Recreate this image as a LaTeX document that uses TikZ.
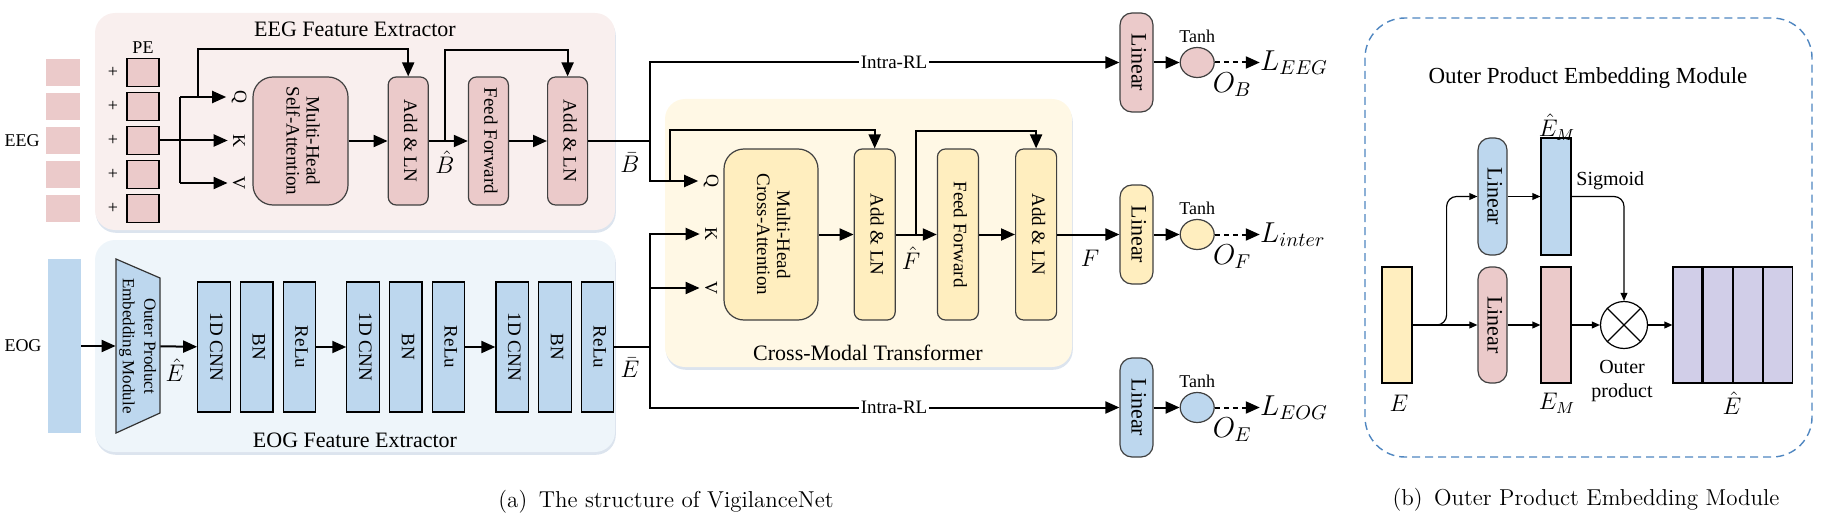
\documentclass[tikz,border=0pt]{standalone}
\usepackage{fontspec}
\newfontfamily\tnr{Liberation Serif}
\usepackage{graphicx}
\usepackage{xcolor}
\usepackage{tikz}
\usetikzlibrary{shapes,arrows.meta,positioning,calc,shadows}

\definecolor{eegbg}{HTML}{F9EFEE}
\definecolor{eegbox}{HTML}{EBCACA}
\definecolor{eogbg}{HTML}{EEF5FA}
\definecolor{eogbox}{HTML}{BDD7EE}
\definecolor{ctbg}{HTML}{FFF8E5}
\definecolor{ctbox}{HTML}{FFEEBF}
\definecolor{opembox}{HTML}{D1CEE8}
\definecolor{dashblue}{HTML}{4F86C0}
\definecolor{shadowc}{HTML}{D3DDEA}

\newcommand{\vtxt}[1]{\rotatebox{-90}{\begin{tabular}{@{}c@{}}#1\end{tabular}}}

\begin{document}
\begin{tikzpicture}[
    x=0.5pt, y=-0.5pt,
    font=\tnr,
    wire/.style={line width=1pt},
    arrow/.style={-{Triangle[length=7pt,width=6pt]}, line width=1pt},
    thinarrow/.style={-{Triangle[length=4pt,width=3.4pt]}, line width=0.6pt},
    panel/.style={rounded corners=10pt, drop shadow={shadow xshift=0.4pt, shadow yshift=-1.4pt, fill=shadowc, opacity=0.8}},
    token/.style={rectangle, fill=eegbox, minimum width=17pt, minimum height=13.5pt, inner sep=0pt},
    pebox/.style={rectangle, draw=black, fill=eegbox, line width=0.6pt, minimum width=16pt, minimum height=14pt, inner sep=0pt},
    eegblock/.style={rectangle, rounded corners=4pt, draw=black!75, fill=eegbox, line width=0.6pt, minimum width=20pt, minimum height=64pt, inner sep=0pt, font=\tnr\fontsize{9.5}{10}\selectfont},
    ctblock/.style={eegblock, fill=ctbox, minimum height=85.5pt, minimum width=20.5pt},
    cnnblock/.style={rectangle, draw=black, fill=eogbox, line width=0.6pt, minimum width=16.25pt, minimum height=65pt, inner sep=0pt, font=\tnr\fontsize{9.5}{10}\selectfont},
    linbox/.style={rectangle, rounded corners=6pt, draw=black!75, line width=0.6pt, minimum width=16.5pt, minimum height=49.5pt, inner sep=0pt, font=\tnr\fontsize{11}{12}\selectfont},
    actnode/.style={ellipse, draw=black!75, line width=0.6pt, minimum width=17pt, minimum height=15pt, inner sep=0pt},
    lbl/.style={font=\tnr\fontsize{9}{10}\selectfont, inner sep=1pt},
    qkv/.style={font=\tnr\fontsize{9}{10}\selectfont, inner sep=2.5pt},
    paneltitle/.style={font=\tnr\fontsize{11}{13}\selectfont},
    mathlbl/.style={font=\fontsize{12}{14}\selectfont, inner sep=0pt},
    bigmath/.style={font=\fontsize{14}{16}\selectfont, inner sep=0pt},
    caption/.style={font=\rmfamily\fontsize{11.5}{13}\selectfont}
]
    \useasboundingbox (0,0) rectangle (1825,519);

    % Panels
    \fill[panel, eegbg] (95,13) rectangle (615,230);
    \fill[panel, eogbg] (95,240) rectangle (615,452);
    \fill[panel, ctbg] (665,99) rectangle (1072,367);
    \draw[dashblue, line width=0.7pt, dash pattern=on 4pt off 2.5pt, rounded corners=20pt] (1365,18) rectangle (1812,457);

    \node[paneltitle] (eegtitle) at (355,29) {EEG Feature Extractor};
    \node[paneltitle] (eogtitle) at (355,440) {EOG Feature Extractor};
    \node[paneltitle] (cttitle) at (868,353) {Cross-Modal Transformer};
    \node[paneltitle, font=\tnr\fontsize{11.5}{13}\selectfont] (optitle) at (1588,78) {Outer Product Embedding Module};

    % EEG tokens + positional encoding
    \node[lbl] (eeg) at (22,141) {EEG};
    \node[lbl] (pe) at (143,48) {PE};
    \node[token] (tokA) at (63,72.5) {};
    \node[token] (tokB) at (63,106.5) {};
    \node[token] (tokC) at (63,140.5) {};
    \node[token] (tokD) at (63,174.5) {};
    \node[token] (tokE) at (63,208.5) {};
    \node[lbl] (plusA) at (113,72.5) {+};
    \node[lbl] (plusB) at (113,106.5) {+};
    \node[lbl] (plusC) at (113,140.5) {+};
    \node[lbl] (plusD) at (113,174.5) {+};
    \node[lbl] (plusE) at (113,208.5) {+};
    \node[pebox] (peA) at (143,72.5) {};
    \node[pebox] (peB) at (143,106.5) {};
    \node[pebox] (peC) at (143,140.5) {};
    \node[pebox] (peD) at (143,174.5) {};
    \node[pebox] (peE) at (143,208.5) {};

    % Self-attention encoder
    \node[qkv] (qa) at (239,97) {\rotatebox{-90}{Q}};
    \node[qkv] (ka) at (239,140.5) {\rotatebox{-90}{K}};
    \node[qkv] (va) at (239,183) {\rotatebox{-90}{V}};
    \node[eegblock, minimum width=47.5pt, rounded corners=10pt] (mhsa) at (300.5,141) {\vtxt{Multi-Head\\Self-Attention}};
    \node[eegblock, right=19.5pt of mhsa] (addA) {\vtxt{Add \& LN}};
    \node[eegblock, right=19.5pt of addA] (ffA) {\vtxt{Feed Forward}};
    \node[eegblock, right=19pt of ffA] (addB) {\vtxt{Add \& LN}};
    \node[mathlbl] (bhat) at (445,162) {$\hat{B}$};
    \node[mathlbl] (bbar) at (630,163) {$\bar{B}$};

    % EOG branch
    \node[lbl] (eog) at (23,346) {EOG};
    \node[rectangle, fill=eogbox, minimum width=16.5pt, minimum height=87pt, inner sep=0pt] (eogsig) at (64.5,346) {};
    \draw[fill=eogbox, draw=black!80, line width=0.6pt] (116,259) -- (160,278) -- (160,413) -- (116,433) -- cycle;
    \node[minimum width=22pt, minimum height=87pt, inner sep=0pt, font=\tnr\fontsize{8.5}{10.8}\selectfont] (opem) at (138,346) {\vtxt{Outer Product\\Embedding Module}};
    \node[mathlbl] (ehat) at (175,370) {$\hat{E}$};
    \node[cnnblock] (cnnA) at (214,347) {\vtxt{1D CNN}};
    \node[cnnblock, right=4.5pt of cnnA] (bnA) {\vtxt{BN}};
    \node[cnnblock, right=4.5pt of bnA] (reluA) {\vtxt{ReLu}};
    \node[cnnblock, right=15pt of reluA] (cnnB) {\vtxt{1D CNN}};
    \node[cnnblock, right=4.5pt of cnnB] (bnB) {\vtxt{BN}};
    \node[cnnblock, right=4.5pt of bnB] (reluB) {\vtxt{ReLu}};
    \node[cnnblock, right=15pt of reluB] (cnnC) {\vtxt{1D CNN}};
    \node[cnnblock, right=4.5pt of cnnC] (bnC) {\vtxt{BN}};
    \node[cnnblock, right=4.5pt of bnC] (reluC) {\vtxt{ReLu}};
    \node[mathlbl] (ebar) at (630,368) {$\bar{E}$};

    % Cross-modal transformer
    \node[qkv] (qb) at (711,181) {\rotatebox{-90}{Q}};
    \node[qkv] (kb) at (711,234) {\rotatebox{-90}{K}};
    \node[qkv] (vb) at (711,288) {\rotatebox{-90}{V}};
    \node[ctblock, minimum width=47pt, rounded corners=10pt] (mhca) at (771,234.5) {\vtxt{Multi-Head\\Cross-Attention}};
    \node[ctblock, right=17.5pt of mhca] (addC) {\vtxt{Add \& LN}};
    \node[ctblock, right=20.5pt of addC] (ffC) {\vtxt{Feed Forward}};
    \node[ctblock, right=18pt of ffC] (addD) {\vtxt{Add \& LN}};
    \node[mathlbl] (fhat) at (911,258) {$\hat{F}$};
    \node[mathlbl, font=\fontsize{13}{15}\selectfont] (fout) at (1090,258) {$F$};

    % Output heads
    \node[linbox, fill=eegbox] (linB) at (1136.5,62.5) {\vtxt{Linear}};
    \node[linbox, fill=ctbox] (linF) at (1136.5,234.5) {\vtxt{Linear}};
    \node[linbox, fill=eogbox] (linE) at (1136.5,407.5) {\vtxt{Linear}};
    \node[actnode, fill=eegbox, right=13pt of linB] (tanhB) {};
    \node[actnode, fill=ctbox, right=13pt of linF] (tanhF) {};
    \node[actnode, fill=eogbox, right=13pt of linE] (tanhE) {};
    \node[lbl, above=1pt of tanhB] {Tanh};
    \node[lbl, above=1pt of tanhF] {Tanh};
    \node[lbl, above=1pt of tanhE] {Tanh};
    \node[bigmath, right=22.5pt of tanhB] (lossB) {$L_{EEG}$};
    \node[bigmath, right=22.5pt of tanhF] (lossF) {$L_{inter}$};
    \node[bigmath, right=22.5pt of tanhE] (lossE) {$L_{EOG}$};
    \node[bigmath] (oB) at ($(tanhB)+(35,22)$) {$O_B$};
    \node[bigmath] (oF) at ($(tanhF)+(35,22)$) {$O_F$};
    \node[bigmath] (oE) at ($(tanhE)+(35,22)$) {$O_E$};

    % Arrows - EEG branch
    \coordinate (fork) at (180,140.5);
    \draw[arrow] (peC) -- (ka);
    \draw[wire] (fork |- qa) -- (fork |- va);
    \draw[arrow] (fork |- qa) -- (qa);
    \draw[arrow] (fork |- va) -- (va);
    \coordinate (skipA) at (198,97);
    \draw[arrow] (skipA) -- ++(0,-48) -| (addA.north);
    \draw[arrow] (mhsa) -- (addA);
    \draw[arrow] (addA) -- (ffA);
    \draw[arrow] (ffA) -- (addB);
    \coordinate (skipB) at ($(addA.east)+(16,0)$);
    \draw[arrow] (skipB) -- ++(0,-91) -| (addB.north);
    \coordinate (bsplit) at (650,141);
    \draw[wire] (addB) -- (bsplit);
    \draw[arrow] (bsplit) |- node[pos=0.76, fill=white, lbl, font=\tnr\fontsize{9.5}{10}\selectfont] {Intra-RL} (linB.west);
    \draw[arrow] (bsplit) |- (qb);

    % Arrows - EOG branch
    \draw[arrow] (eogsig) -- (opem);
    \draw[arrow] (opem) -- (cnnA);
    \draw[arrow] (reluA) -- (cnnB);
    \draw[arrow] (reluB) -- (cnnC);
    \coordinate (esplit) at (650,347);
    \draw[wire] (reluC) -- (esplit);
    \draw[arrow] (esplit) |- (kb);
    \draw[arrow] (esplit) |- (vb);
    \draw[arrow] (esplit) |- node[pos=0.76, fill=white, lbl, font=\tnr\fontsize{9.5}{10}\selectfont] {Intra-RL} (linE.west);

    % Arrows - cross-modal transformer
    \coordinate (skipC) at ($(bsplit |- qb)+(20,0)$);
    \draw[arrow] (skipC) -- ++(0,-51) -| (addC.north);
    \draw[arrow] (mhca) -- (addC);
    \draw[arrow] (addC) -- (ffC);
    \draw[arrow] (ffC) -- (addD);
    \coordinate (skipD) at ($(addC.east)+(20,0)$);
    \draw[arrow] (skipD) -- ++(0,-103) -| (addD.north);
    \draw[arrow] (addD) -- (linF);

    % Arrows - output heads
    \draw[arrow] (linB) -- (tanhB);
    \draw[arrow] (linF) -- (tanhF);
    \draw[arrow] (linE) -- (tanhE);
    \draw[arrow, dash pattern=on 2.5pt off 2pt] (tanhB) -- (tanhB -| lossB.west);
    \draw[arrow, dash pattern=on 2.5pt off 2pt] (tanhF) -- (tanhF -| lossF.west);
    \draw[arrow, dash pattern=on 2.5pt off 2pt] (tanhE) -- (tanhE -| lossE.west);

    % Outer product embedding module
    \node[rectangle, draw=black, fill=ctbox, line width=0.6pt, minimum width=15pt, minimum height=58pt, inner sep=0pt] (embE) at (1397,325) {};
    \node[linbox, fill=eogbox, minimum width=14.5pt, minimum height=58.5pt] (linU) at (1492.5,196.5) {\vtxt{Linear}};
    \node[linbox, fill=eegbox, minimum width=14.5pt, minimum height=58pt] (linL) at (1492.5,325) {\vtxt{Linear}};
    \node[rectangle, draw=black, fill=eogbox, line width=0.6pt, minimum width=15pt, minimum height=58.5pt, inner sep=0pt] (emhat) at (1556,196.5) {};
    \node[rectangle, draw=black, fill=eegbox, line width=0.6pt, minimum width=15pt, minimum height=58pt, inner sep=0pt] (em) at (1556,325) {};
    \node[circle, draw=black, fill=white, line width=0.6pt, minimum size=23.5pt, inner sep=0pt] (otimes) at (1624,325) {};
    \draw[line width=0.6pt] (otimes.north west) -- (otimes.south east);
    \draw[line width=0.6pt] (otimes.north east) -- (otimes.south west);
    \node[rectangle, draw=black, fill=opembox, line width=0.6pt, minimum width=14.5pt, minimum height=58pt, inner sep=0pt] (stripA) at (1687.5,325) {};
    \node[rectangle, draw=black, fill=opembox, line width=0.6pt, minimum width=14.5pt, minimum height=58pt, inner sep=0pt, right=0pt of stripA] (stripB) {};
    \node[rectangle, draw=black, fill=opembox, line width=0.6pt, minimum width=14.5pt, minimum height=58pt, inner sep=0pt, right=0pt of stripB] (stripC) {};
    \node[rectangle, draw=black, fill=opembox, line width=0.6pt, minimum width=14.5pt, minimum height=58pt, inner sep=0pt, right=0pt of stripC] (stripD) {};

    \node[mathlbl] (elbl) at (1399,403) {$E$};
    \node[mathlbl] (emlbl) at (1557,403) {$E_M$};
    \node[mathlbl] (emhatlbl) at (1557,127) {$\hat{E}_M$};
    \node[mathlbl] (ehatlbl) at (1732,403) {$\hat{E}$};
    \node[lbl, font=\tnr\fontsize{10}{11}\selectfont, anchor=west] (sigm) at (1574,181) {Sigmoid};
    \node[lbl, font=\tnr\fontsize{10}{12}\selectfont, align=center] (oplbl) at (1622,381) {Outer\\product};

    \draw[thinarrow] (embE) -- (linL);
    \draw[thinarrow, rounded corners=5pt] (embE.east) -- ++(34,0) |- (linU.west);
    \draw[thinarrow] (linU) -- (emhat);
    \draw[thinarrow, rounded corners=5pt] (emhat.east) -| (otimes.north);
    \draw[thinarrow] (linL) -- (em);
    \draw[thinarrow] (em) -- (otimes);
    \draw[thinarrow] (otimes) -- (stripA);

    % Captions
    \node[caption] (capA) at (666,502) {(a)\hspace{0.5em}The structure of VigilanceNet};
    \node[caption] (capB) at (1586,500) {(b)\hspace{0.5em}Outer Product Embedding Module};
\end{tikzpicture}
\end{document}
